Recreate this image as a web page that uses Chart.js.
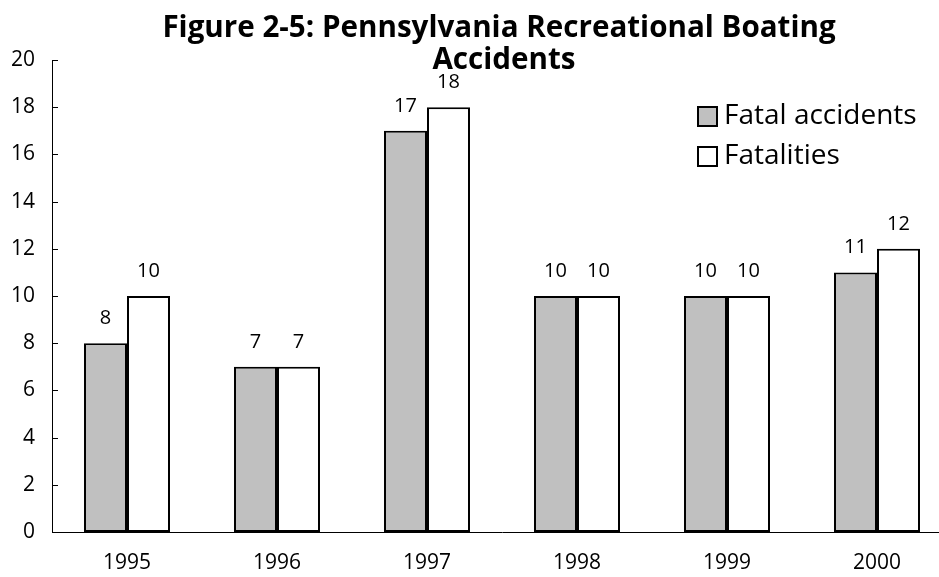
<!DOCTYPE html>
<html>
<head>
<meta charset="utf-8">
<script src="https://cdn.jsdelivr.net/npm/chart.js@4/dist/chart.umd.min.js"></script>
<style>
html,body{margin:0;padding:0;background:#fff;overflow:hidden;width:939px;height:577px;}
#wrap{position:absolute;left:0;top:0;width:960px;height:577px;}
</style>
</head>
<body>
<div id="wrap"><canvas id="c" width="960" height="577"></canvas></div>
<script>
const years = ['1995','1996','1997','1998','1999','2000'];
const fatalAccidents = [8, 7, 17, 10, 10, 11];
const fatalities = [10, 7, 18, 10, 10, 12];
const seriesNames = ['Fatal accidents', 'Fatalities'];
const titleLines = ['Figure 2-5: Pennsylvania Recreational Boating', 'Accidents'];

const FONT = '"Open Sans", "DejaVu Sans", sans-serif';

const extras = {
  id: 'extras',
  afterDraw(chart) {
    const ctx = chart.ctx;
    const ys = chart.scales.y;
    const area = chart.chartArea;
    ctx.save();
    // inward tick marks on y axis
    ctx.strokeStyle = '#000';
    ctx.lineWidth = 1;
    ys.ticks.forEach(t => {
      const py = Math.round(ys.getPixelForValue(t.value)) + 0.5;
      ctx.beginPath();
      ctx.moveTo(area.left, py);
      ctx.lineTo(area.left + 6, py);
      ctx.stroke();
    });
    // value labels
    ctx.fillStyle = '#000';
    ctx.font = '20px ' + FONT;
    ctx.textAlign = 'center';
    ctx.textBaseline = 'middle';
    chart.data.datasets.forEach((ds, di) => {
      const meta = chart.getDatasetMeta(di);
      meta.data.forEach((bar, i) => {
        ctx.fillText(String(ds.data[i]), bar.x, bar.y - 25);
      });
    });
    // title
    ctx.font = 'bold 29.6px ' + FONT;
    ctx.fillText(titleLines[0], 499, 29);
    ctx.fillText(titleLines[1], 504, 61);
    // legend
    const legendItems = [
      {label: seriesNames[0], fill: '#c0c0c0', y: 116.5},
      {label: seriesNames[1], fill: '#ffffff', y: 156.5}
    ];
    legendItems.forEach(it => {
      ctx.fillStyle = it.fill;
      ctx.fillRect(698, it.y - 9.5, 19, 19);
      ctx.strokeStyle = '#000';
      ctx.lineWidth = 2;
      ctx.strokeRect(698, it.y - 9.5, 19, 19);
      ctx.fillStyle = '#000';
      ctx.font = '28px ' + FONT;
      ctx.textAlign = 'left';
      ctx.fillText(it.label, 724, it.y);
    });
    ctx.restore();
  }
};

new Chart(document.getElementById('c'), {
  type: 'bar',
  data: {
    labels: years,
    datasets: [
      {label: seriesNames[0], data: fatalAccidents, backgroundColor: '#c0c0c0', borderColor: '#000', borderWidth: 2, borderSkipped: false},
      {label: seriesNames[1], data: fatalities, backgroundColor: '#ffffff', borderColor: '#000', borderWidth: 2, borderSkipped: false}
    ]
  },
  options: {
    responsive: false,
    animation: false,
    events: [],
    layout: {padding: {top: 60, right: 8, bottom: 0, left: 0}},
    plugins: {legend: {display: false}, title: {display: false}, tooltip: {enabled: false}},
    datasets: {bar: {categoryPercentage: 0.5733, barPercentage: 1}},
    scales: {
      x: {
        afterFit(s) { s.height = 45; },
        grid: {display: false, drawTicks: false},
        border: {display: true, color: '#000', width: 1},
        ticks: {color: '#000', font: {family: FONT, size: 21}, padding: 18}
      },
      y: {
        min: 0, max: 20,
        afterFit(s) { s.width = 52; },
        grid: {display: false, drawTicks: false},
        border: {display: true, color: '#000', width: 1},
        ticks: {stepSize: 2, color: '#000', font: {family: FONT, size: 21}, padding: 17}
      }
    }
  },
  plugins: [extras]
});
</script>
</body>
</html>
